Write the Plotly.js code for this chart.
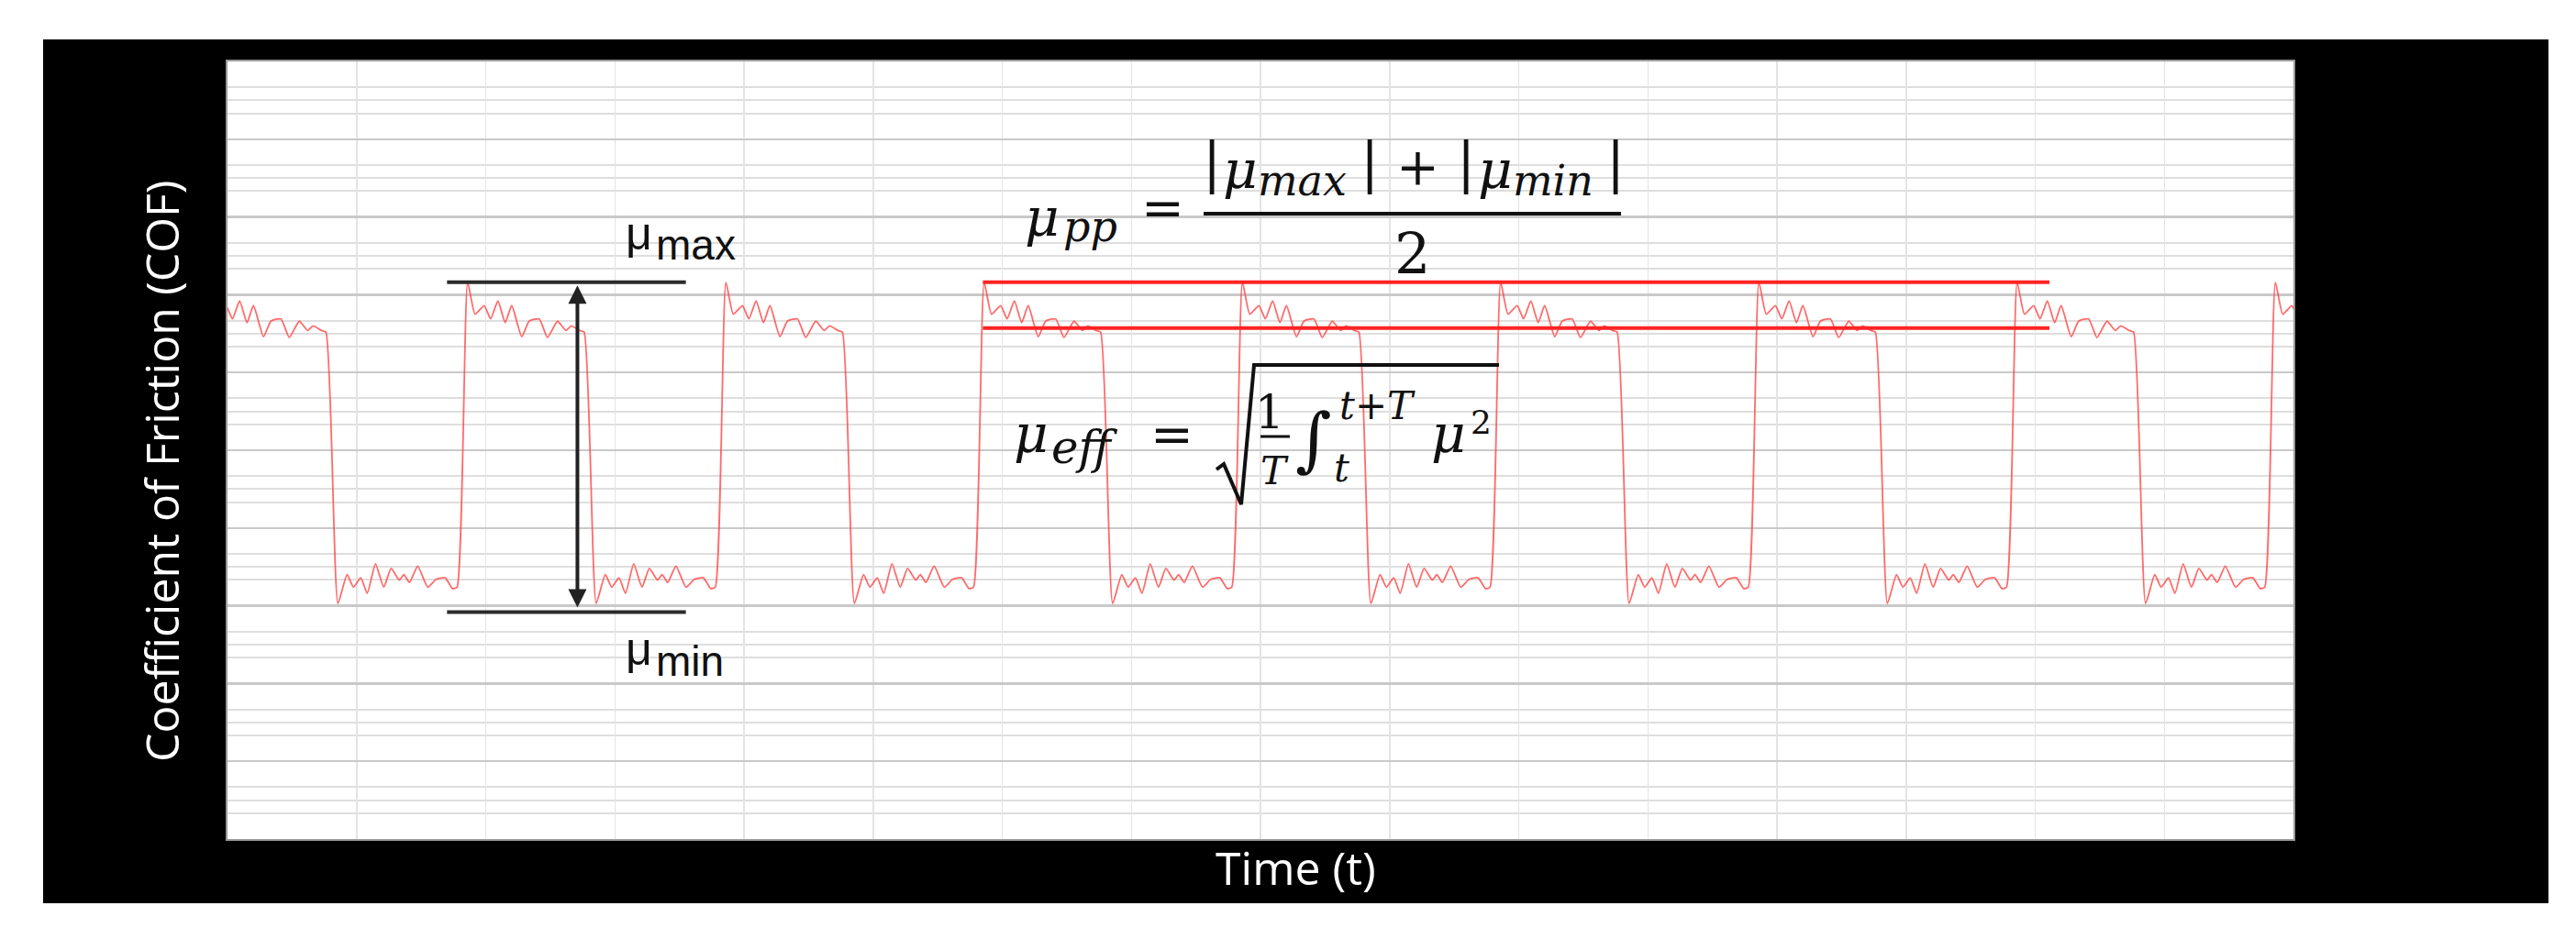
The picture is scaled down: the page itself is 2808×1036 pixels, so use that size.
<!DOCTYPE html>
<html>
<head>
<meta charset="utf-8">
<script src="https://cdn.plot.ly/plotly-3.0.1.min.js"></script>
<style>
  html, body { margin: 0; padding: 0; background: #fff; }
  #chart { width: 2808px; height: 1036px; }
</style>
</head>
<body>
<div id="chart"></div>
<script>
// one period of the trace: time from the start-up peak, COF
const cycleOffset = [0, 0.057, 0.128, 0.178, 0.234, 0.291, 0.341, 0.419, 0.476, 0.554, 0.618,
  0.696, 0.760, 0.803, 0.867, 0.902, 0.995, 1.066, 1.115, 1.172, 1.222, 1.286, 1.350, 1.407,
  1.471, 1.506, 1.549, 1.613, 1.691, 1.755, 1.826, 1.883, 1.918];
const cycleCOF = [7.16, 6.75, 6.86, 6.69, 6.92, 6.64, 6.86, 6.46, 6.66, 6.69, 6.45,
  6.66, 6.54, 6.60, 6.54, 6.52, 3.03, 3.40, 3.24, 3.36, 3.16, 3.54, 3.24, 3.48,
  3.33, 3.40, 3.30, 3.51, 3.24, 3.34, 3.36, 3.22, 3.24];
// time of each start-up peak
const peakTimes = [-0.14, 1.86, 3.86, 5.86, 7.86, 9.86, 11.86, 13.86, 15.86];

// marker levels
const muMax = 7.16;
const muMin = 2.92;
const ppLevels = [7.16, 6.57];
const ppSpan = [5.85, 14.11];
const markSpan = [1.70, 3.55];
const arrowAt = 2.71;

const xTicks = [0, 1, 2, 3, 4, 5, 6, 7, 8, 9, 10, 11, 12, 13, 14, 15, 16];
const yTicks = [0, 1, 2, 3, 4, 5, 6, 7, 8, 9, 10];
const yMinorTicks = yTicks.slice(0, -1).flatMap((k) => [k + 1 / 3, k + 0.5, k + 2 / 3]);

// plot box in pixels, used to place the drawn-on formulas
const plotL = 248, plotR = 2500, plotT = 67, plotB = 915;
const X = (px) => ((px - plotL) / (plotR - plotL)) * 16;
const Y = (py) => ((plotB - py) / (plotB - plotT)) * 10;
const PX = (px) => (px - plotL) / (plotR - plotL);
const PY = (py) => (plotB - py) / (plotB - plotT);

const timeX = [];
const cofY = [];
peakTimes.forEach((p) => {
  cycleOffset.forEach((o, i) => {
    timeX.push(p + o);
    cofY.push(cycleCOF[i]);
  });
});

const traces = [
  {
    x: timeX,
    y: cofY,
    type: 'scatter',
    mode: 'lines',
    line: { color: 'rgba(255,70,70,0.8)', width: 1.8, shape: 'spline', smoothing: 0.5 },
    hoverinfo: 'skip',
  },
  {
    x: [ppSpan[0], ppSpan[1], null, ppSpan[0], ppSpan[1]],
    y: [ppLevels[0], ppLevels[0], null, ppLevels[1], ppLevels[1]],
    type: 'scatter',
    mode: 'lines',
    line: { color: '#ff2424', width: 4 },
    hoverinfo: 'skip',
  },
  {
    x: [markSpan[0], markSpan[1], null, markSpan[0], markSpan[1]],
    y: [muMax, muMax, null, muMin, muMin],
    type: 'scatter',
    mode: 'lines',
    line: { color: '#2b2b2b', width: 4 },
    hoverinfo: 'skip',
  },
];

const SERIF = 'DejaVu Serif';
const SANS = 'Liberation Sans';

// text piece centred on cx, sitting on a baseline (pixels)
function piece(text, cx, base, size, family) {
  return {
    text: text,
    x: X(cx),
    y: Y(base - 0.346 * size),
    xref: 'x',
    yref: 'y',
    xanchor: 'center',
    yanchor: 'middle',
    showarrow: false,
    borderpad: 0,
    font: { family: family, size: size, color: '#111' },
  };
}

const annotations = [
  // labels for the range
  piece('μ', 696, 272, 50, SANS),
  piece('max', 758, 283, 46, SANS),
  piece('μ', 696, 725, 50, SANS),
  piece('min', 752, 737, 46, SANS),

  // peak-to-peak formula
  piece('<i>μ</i>', 1136, 257, 58, SERIF),
  piece('<i>pp</i>', 1188, 263, 46, SERIF),
  piece('=', 1267, 246, 56, SERIF),
  piece('|', 1321, 198, 60, SERIF),
  piece('<i>μ</i>', 1352, 205, 58, SERIF),
  piece('<i>max</i>', 1419, 213, 46, SERIF),
  piece('|', 1493, 198, 60, SERIF),
  piece('+', 1545, 201, 56, SERIF),
  piece('|', 1598, 198, 60, SERIF),
  piece('<i>μ</i>', 1630, 205, 58, SERIF),
  piece('<i>min</i>', 1693, 213, 46, SERIF),
  piece('|', 1761, 198, 60, SERIF),
  piece('2', 1539, 298, 62, SERIF),

  // effective value formula
  piece('<i>μ</i>', 1124, 493, 58, SERIF),
  piece('<i>eff</i>', 1182, 505, 50, SERIF),
  piece('=', 1277, 493, 56, SERIF),
  piece('1', 1384, 467, 50, SERIF),
  piece('<i>T</i>', 1389, 528, 42, SERIF),
  piece('∫', 1432, 505, 76, SERIF),
  piece('<i>t+T</i>', 1501, 457, 42, SERIF),
  piece('<i>t</i>', 1462, 525, 42, SERIF),
  piece('<i>μ</i>', 1579, 493, 58, SERIF),
  piece('2', 1614, 473, 36, SERIF),

  // double arrow between the two levels
  {
    x: arrowAt,
    y: muMax - 0.04,
    ax: arrowAt,
    ay: muMin + 0.04,
    xref: 'x',
    yref: 'y',
    axref: 'x',
    ayref: 'y',
    text: '',
    showarrow: true,
    arrowside: 'end+start',
    arrowhead: 2,
    startarrowhead: 2,
    arrowsize: 1,
    startarrowsize: 1,
    arrowwidth: 4,
    arrowcolor: '#222',
    standoff: 0,
    startstandoff: 0,
  },

  // axis titles, centred on the black frame
  {
    text: 'Coefficient of Friction (COF)',
    x: PX(176),
    y: PY(514),
    xref: 'paper',
    yref: 'paper',
    textangle: -90,
    xanchor: 'center',
    yanchor: 'middle',
    showarrow: false,
    font: { family: 'Open Sans', size: 50, color: '#fff' },
  },
  {
    text: 'Time (t)',
    x: PX(1412),
    y: PY(946),
    xref: 'paper',
    yref: 'paper',
    xanchor: 'center',
    yanchor: 'middle',
    showarrow: false,
    font: { family: 'Open Sans', size: 50, color: '#fff' },
  },
];

const sqrtPath = [
  [1326, 512], [1334, 506], [1353, 550], [1367, 398], [1634, 398],
].map(([px, py], i) => (i === 0 ? 'M' : 'L') + X(px) + ',' + Y(py)).join(' ');

const shapes = [
  {
    type: 'rect', xref: 'paper', yref: 'paper', layer: 'below',
    x0: PX(47), x1: PX(2778), y0: PY(985), y1: PY(43),
    fillcolor: '#000', line: { width: 0 },
  },
  {
    type: 'rect', xref: 'paper', yref: 'paper', layer: 'below',
    x0: 0, x1: 1, y0: 0, y1: 1,
    fillcolor: '#fff', line: { width: 0 },
  },
  {
    type: 'line', xref: 'x', yref: 'y',
    x0: X(1312), x1: X(1767), y0: Y(233), y1: Y(233),
    line: { color: '#111', width: 4 },
  },
  {
    type: 'line', xref: 'x', yref: 'y',
    x0: X(1374), x1: X(1406), y0: Y(476), y1: Y(476),
    line: { color: '#111', width: 3 },
  },
  {
    type: 'path', xref: 'x', yref: 'y',
    path: sqrtPath,
    line: { color: '#111', width: 4 },
  },
];

const layout = {
  width: 2808,
  height: 1036,
  margin: { l: plotL, r: 2808 - plotR, t: plotT, b: 1036 - plotB, pad: 0 },
  paper_bgcolor: '#fff',
  plot_bgcolor: '#fff',
  showlegend: false,
  font: { family: SERIF },
  xaxis: {
    range: [0, 16],
    tickmode: 'array',
    tickvals: xTicks,
    showticklabels: false,
    ticks: '',
    showgrid: true,
    gridcolor: '#e4e4e4',
    gridwidth: 1.5,
    zeroline: false,
    showline: true,
    mirror: true,
    linecolor: '#9a9a9a',
    linewidth: 2,
    fixedrange: true,
  },
  yaxis: {
    range: [0, 10],
    tickmode: 'array',
    tickvals: yTicks,
    showticklabels: false,
    ticks: '',
    showgrid: true,
    gridcolor: '#c9c9c9',
    gridwidth: 2.5,
    minor: {
      tickmode: 'array',
      tickvals: yMinorTicks,
      showgrid: true,
      gridcolor: '#dedede',
      gridwidth: 2,
      ticks: '',
    },
    zeroline: false,
    showline: true,
    mirror: true,
    linecolor: '#9a9a9a',
    linewidth: 2,
    fixedrange: true,
  },
  annotations: annotations,
  shapes: shapes,
};

Plotly.newPlot('chart', traces, layout, { staticPlot: true, displayModeBar: false });
</script>
</body>
</html>
